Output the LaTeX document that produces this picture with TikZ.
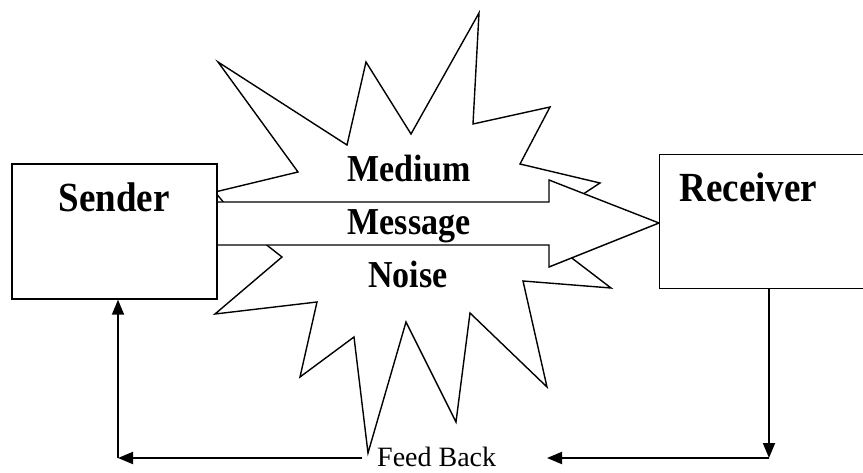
\documentclass[tikz,border=0pt]{standalone}
\usepackage{fontspec}
\usepackage{graphicx}
\setmainfont{Liberation Serif}
\usetikzlibrary{arrows.meta}
\newcommand{\tallbox}[1]{\scalebox{1}[1.12]{#1}}
\begin{document}
\begin{tikzpicture}[x=1pt,y=-1pt,
  outline/.style={draw=black, line width=1.4pt, line join=miter, fill=white},
  box/.style={draw=black, line width=1.4pt, fill=white, rectangle, inner sep=0pt},
  fb/.style={line width=1.8pt, -{Triangle[length=15pt,width=12pt]}},
  title/.style={font=\fontsize{37}{40}\selectfont\bfseries, anchor=base, inner sep=0pt},
  inlabel/.style={font=\fontsize{34}{37}\selectfont\bfseries, anchor=base, inner sep=0pt}]
\clip (0,0) rectangle (863,473);
% explosion (noise / medium)
\draw[outline] (215,192) -- (298,172) -- (218,62) -- (347,145) -- (366,62) -- (411,134)
  -- (479,13) -- (473,124) -- (550,107) -- (520,164) -- (600,183) -- (565,206)
  -- (560,249) -- (611,288) -- (523,281) -- (547,387) -- (470,313) -- (456,422)
  -- (406,322) -- (368,453) -- (354,337) -- (300,377) -- (317,302) -- (215,314)
  -- (282,257) -- (245,228) -- cycle;
% message arrow
\draw[outline] (217,202) -- (549,202) -- (549,180) -- (659,223) -- (549,267)
  -- (549,245) -- (217,245) -- cycle;
% boxes
\node[box, minimum width=205pt, minimum height=135pt] (sender) at (114.5,231.5) {};
\node[box, minimum width=240pt, minimum height=134pt, anchor=north west] (receiver) at (659,154) {};
% labels
\node[title] (senderlabel) at (114,212) {\tallbox{Sender}};
\node[title] (receiverlabel) at (748.5,202) {\tallbox{Receiver}};
\node[inlabel] (medium) at (409,182) {\tallbox{Medium}};
\node[inlabel] (message) at (409,235) {\tallbox{Message}};
\node[inlabel] (noise) at (408,288) {\tallbox{Noise}};
\node[font=\fontsize{28}{30}\selectfont, anchor=base west, inner sep=0pt] (fbtext) at (377,466) {Feed Back};
% feedback loop
\coordinate (fbR) at (769,458);
\coordinate (fbRend) at (547,458);
\coordinate (fbLstart) at (362,458);
\coordinate (fbL) at (118,458);
\draw[fb] (receiver.south west -| fbR) -- (fbR);
\draw[fb] (fbR) -- (fbRend);
\draw[fb] (fbLstart) -- (fbL);
\draw[fb] (fbL) -- (fbL |- sender.south);
\end{tikzpicture}
\end{document}
